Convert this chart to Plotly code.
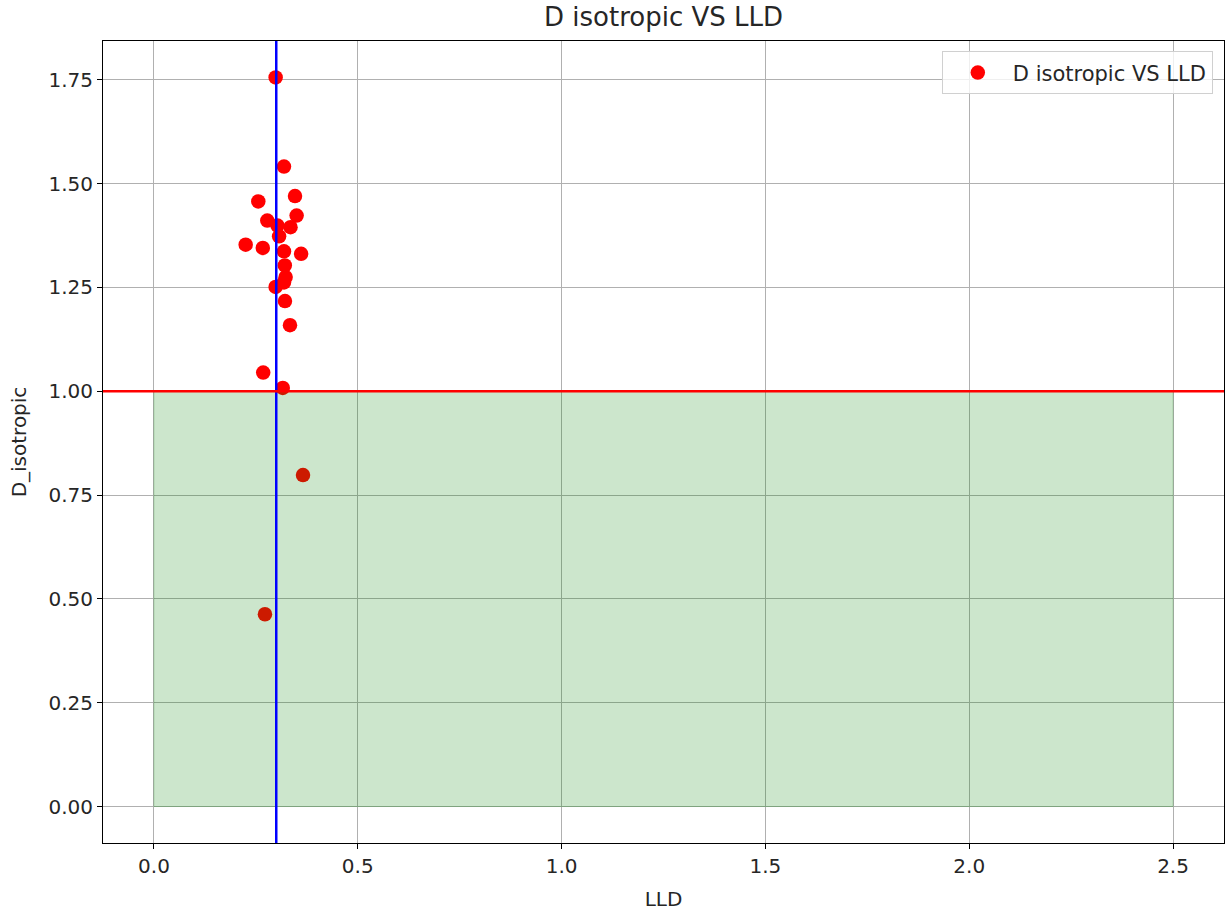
import plotly.graph_objects as go

# Data
lld = [0.2985, 0.319, 0.256, 0.346, 0.350, 0.278, 0.335, 0.303, 0.307, 0.225, 0.267,
       0.319, 0.361, 0.321, 0.323, 0.2985, 0.319, 0.3214, 0.3337, 0.268, 0.316,
       0.3656, 0.2723]
d_iso = [1.7555, 1.541, 1.457, 1.470, 1.423, 1.411, 1.395, 1.399, 1.373, 1.353, 1.345,
         1.337, 1.331, 1.303, 1.275, 1.251, 1.262, 1.217, 1.159, 1.045, 1.008,
         0.798, 0.463]

fill_x = [0.0, 2.5]
fill_y_low = 0.0
fill_y_high = 1.0
vline_x = 0.3
hline_y = 1.0

x_ticks = [0.0, 0.5, 1.0, 1.5, 2.0, 2.5]
y_ticks = [0.0, 0.25, 0.5, 0.75, 1.0, 1.25, 1.5, 1.75]

font = "DejaVu Sans"

fig = go.Figure()

fig.add_trace(go.Scatter(
    x=lld, y=d_iso, mode="markers", name="D isotropic VS LLD",
    marker=dict(color="red", size=14.5, line=dict(width=0)),
))

# green shaded region (drawn above the points, like matplotlib)
fig.add_trace(go.Scatter(
    x=[fill_x[0], fill_x[1], fill_x[1], fill_x[0], fill_x[0]],
    y=[fill_y_low, fill_y_low, fill_y_high, fill_y_high, fill_y_low],
    mode="lines", fill="toself", fillcolor="rgba(0,128,0,0.2)",
    line=dict(color="rgba(0,128,0,0.2)", width=1),
    showlegend=False, hoverinfo="skip",
))

fig.add_shape(type="line", xref="x", yref="paper", x0=vline_x, x1=vline_x, y0=0, y1=1,
              line=dict(color="blue", width=2.5), layer="above")
fig.add_shape(type="line", xref="paper", yref="y", x0=0, x1=1, y0=hline_y, y1=hline_y,
              line=dict(color="red", width=2.5), layer="above")

axis_common = dict(
    showgrid=True, gridcolor="#b0b0b0", gridwidth=1,
    showline=True, linecolor="black", linewidth=1, mirror=True,
    ticks="outside", ticklen=5, tickcolor="black", tickwidth=1,
    zeroline=False, tickfont=dict(family=font, size=20, color="#262626"),
    automargin=False,
)

fig.update_xaxes(range=[-0.125, 2.625], tickvals=x_ticks,
                 ticktext=[f"{v:.1f}" for v in x_ticks],
                 title=dict(text="LLD", font=dict(family=font, size=20, color="#262626"), standoff=14),
                 **axis_common)
fig.update_yaxes(range=[-0.0878, 1.8433], tickvals=y_ticks,
                 ticktext=[f"{v:.2f}" for v in y_ticks],
                 title=dict(text="D_isotropic", font=dict(family=font, size=20, color="#262626"), standoff=16),
                 **axis_common)

fig.update_layout(
    width=1225, height=911,
    margin=dict(l=103, r=1, t=41, b=68),
    paper_bgcolor="white", plot_bgcolor="white",
    title=dict(text="D isotropic VS LLD", x=0.5, xanchor="center", y=0.981, yanchor="middle",
               xref="paper",
               font=dict(family=font, size=26, color="#262626")),
    legend=dict(x=0.99, y=0.987, xanchor="right", yanchor="top",
                bgcolor="rgba(255,255,255,0.8)", bordercolor="#d0d0d0", borderwidth=1,
                itemwidth=60,
                font=dict(family=font, size=21, color="#262626")),
    showlegend=True,
)

fig.write_html(
    "out.html",
    config={"displayModeBar": False},
    post_script="document.body.style.margin='0';document.body.style.overflow='hidden';",
)
